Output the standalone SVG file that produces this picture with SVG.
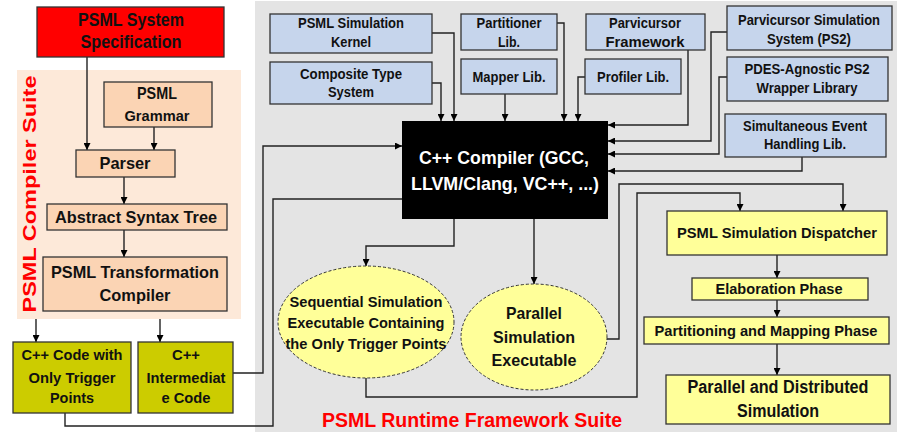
<svg xmlns="http://www.w3.org/2000/svg" width="911" height="446" viewBox="0 0 911 446">
<defs>
<marker id="ah" viewBox="0 0 10 10" refX="10" refY="5" markerWidth="7" markerHeight="7" markerUnits="userSpaceOnUse" orient="auto">
<path d="M0,0 L10,5 L0,10 z" fill="#000"/>
</marker>
<style>
text{font-family:"Liberation Sans",Arial,sans-serif;font-weight:bold;text-anchor:middle;fill:#111}
.box{stroke:#333;stroke-width:1.3}
.red{fill:#FF0000}
.peach{fill:#FBD4B4}
.olive{fill:#CCCC00}
.yel{fill:#FFFF99}
.blue{fill:#C6D5EC}
.ell{fill:#FFFF99;stroke:#333;stroke-width:1;stroke-dasharray:3 2}
.c{fill:none;stroke:#222;stroke-width:1.4}
.a{marker-end:url(#ah)}
.s14{font-size:14px}
.s15{font-size:15px}
.s17{font-size:17px}
.s18{font-size:18px}
.s19{font-size:19px}
.title{fill:#FF0000;font-size:20px}
</style>
</defs>
<rect x="0" y="0" width="911" height="446" fill="#fff"/>
<rect x="255" y="1" width="642" height="431" fill="#E4E4E4"/>
<rect x="17" y="70" width="224" height="249" fill="#FDE9D9"/>
<text class="title" transform="translate(36,194) rotate(-90)" textLength="237" lengthAdjust="spacingAndGlyphs" style="font-size:19px">PSML Compiler Suite</text>
<text class="title" x="472" y="427" textLength="300" lengthAdjust="spacingAndGlyphs">PSML Runtime Framework Suite</text>

<g id="connectors">
<path class="c a" d="M87,57 V150"/>
<path class="c a" d="M154,127 V150"/>
<path class="c a" d="M124,177 V204"/>
<path class="c a" d="M124,230 V257"/>
<path class="c a" d="M36,319 V342"/>
<path class="c a" d="M160,319 V342"/>
<path class="c a" d="M233,373 H263 V146 H402"/>
<path class="c" d="M65,413 V426 H273 V199 H402"/>
<path class="c a" d="M432,33 H454 V121"/>
<path class="c a" d="M432,83 H441 V121"/>
<path class="c a" d="M505,94 V121"/>
<path class="c a" d="M557,23 H564 V121"/>
<path class="c a" d="M585,77 H578 V121"/>
<path class="c a" d="M688,50 V125 H608"/>
<path class="c a" d="M727,32 H711 V141 H608"/>
<path class="c a" d="M727,77 H719 V154 H608"/>
<path class="c a" d="M802,157 V171 H608"/>
<path class="c a" d="M454,219 V246 H366 V266"/>
<path class="c a" d="M534,219 V284"/>
<path class="c a" d="M607,339 H619 V184 H843 V211"/>
<path class="c a" d="M366,378 V397 H637 V193 H740 V211"/>
<path class="c a" d="M777,255 V278"/>
<path class="c a" d="M777,300 V317"/>
<path class="c a" d="M777,344 V375"/>
</g>

<g id="spec">
<rect class="box red" x="37" y="7" width="187" height="50"/>
<text class="s18" x="131" y="26" textLength="106" lengthAdjust="spacingAndGlyphs">PSML System</text>
<text class="s18" x="131" y="48" textLength="101" lengthAdjust="spacingAndGlyphs">Specification</text>
</g>
<g id="grammar">
<rect class="box peach" x="104" y="82" width="108" height="45"/>
<text class="s17" x="157" y="99" textLength="40" lengthAdjust="spacingAndGlyphs">PSML</text>
<text class="s15" x="157" y="121" textLength="65" lengthAdjust="spacingAndGlyphs">Grammar</text>
</g>
<g id="parser">
<rect class="box peach" x="76" y="150" width="99" height="27"/>
<text class="s17" x="125" y="169" textLength="51" lengthAdjust="spacingAndGlyphs">Parser</text>
</g>
<g id="ast">
<rect class="box peach" x="47" y="204" width="180" height="26"/>
<text class="s17" x="136" y="223" textLength="162" lengthAdjust="spacingAndGlyphs">Abstract Syntax Tree</text>
</g>
<g id="transform">
<rect class="box peach" x="43" y="257" width="184" height="54"/>
<text class="s17" x="135" y="278" textLength="168" lengthAdjust="spacingAndGlyphs">PSML Transformation</text>
<text class="s17" x="135" y="301" textLength="71" lengthAdjust="spacingAndGlyphs">Compiler</text>
</g>
<g id="cppcode">
<rect class="box olive" x="13" y="342" width="118" height="71"/>
<text class="s15" x="72" y="360" textLength="101" lengthAdjust="spacingAndGlyphs">C++ Code with</text>
<text class="s15" x="72" y="383" textLength="87" lengthAdjust="spacingAndGlyphs">Only Trigger</text>
<text class="s15" x="72" y="403" textLength="44" lengthAdjust="spacingAndGlyphs">Points</text>
</g>
<g id="cppinter">
<rect class="box olive" x="138" y="342" width="95" height="71"/>
<text class="s15" x="186" y="360" textLength="28" lengthAdjust="spacingAndGlyphs">C++</text>
<text class="s15" x="186" y="383" textLength="79" lengthAdjust="spacingAndGlyphs">Intermediat</text>
<text class="s15" x="186" y="403" textLength="49" lengthAdjust="spacingAndGlyphs">e Code</text>
</g>

<g id="kernel">
<rect class="box blue" x="270" y="14" width="162" height="39"/>
<text class="s14" x="351" y="28" textLength="106" lengthAdjust="spacingAndGlyphs">PSML Simulation</text>
<text class="s14" x="351" y="47" textLength="40" lengthAdjust="spacingAndGlyphs">Kernel</text>
</g>
<g id="composite">
<rect class="box blue" x="270" y="62" width="162" height="42"/>
<text class="s14" x="351" y="79" textLength="102" lengthAdjust="spacingAndGlyphs">Composite Type</text>
<text class="s14" x="351" y="97" textLength="46" lengthAdjust="spacingAndGlyphs">System</text>
</g>
<g id="partitioner">
<rect class="box blue" x="461" y="14" width="96" height="36"/>
<text class="s14" x="509" y="28" textLength="65" lengthAdjust="spacingAndGlyphs">Partitioner</text>
<text class="s14" x="509" y="47" textLength="22" lengthAdjust="spacingAndGlyphs">Lib.</text>
</g>
<g id="mapper">
<rect class="box blue" x="461" y="59" width="96" height="35"/>
<text class="s14" x="509" y="82" textLength="73" lengthAdjust="spacingAndGlyphs">Mapper Lib.</text>
</g>
<g id="parvicursor">
<rect class="box blue" x="586" y="14" width="119" height="36"/>
<text class="s14" x="645" y="28" textLength="72" lengthAdjust="spacingAndGlyphs">Parvicursor</text>
<text class="s14" x="645" y="47" textLength="79" lengthAdjust="spacingAndGlyphs">Framework</text>
</g>
<g id="profiler">
<rect class="box blue" x="585" y="59" width="96" height="35"/>
<text class="s14" x="633" y="82" textLength="72" lengthAdjust="spacingAndGlyphs">Profiler Lib.</text>
</g>
<g id="ps2">
<rect class="box blue" x="727" y="6" width="165" height="44"/>
<text class="s14" x="809" y="25" textLength="142" lengthAdjust="spacingAndGlyphs">Parvicursor Simulation</text>
<text class="s14" x="809" y="44" textLength="84" lengthAdjust="spacingAndGlyphs">System (PS2)</text>
</g>
<g id="pdes">
<rect class="box blue" x="727" y="57" width="161" height="44"/>
<text class="s14" x="807" y="74" textLength="125" lengthAdjust="spacingAndGlyphs">PDES-Agnostic PS2</text>
<text class="s14" x="807" y="93" textLength="101" lengthAdjust="spacingAndGlyphs">Wrapper Library</text>
</g>
<g id="simevent">
<rect class="box blue" x="725" y="114" width="161" height="43"/>
<text class="s14" x="805" y="131" textLength="124" lengthAdjust="spacingAndGlyphs">Simultaneous Event</text>
<text class="s14" x="805" y="149" textLength="82" lengthAdjust="spacingAndGlyphs">Handling Lib.</text>
</g>

<g id="compiler">
<rect x="402" y="121" width="206" height="98" fill="#000"/>
<text class="s19" x="504" y="164" style="fill:#fff" textLength="170" lengthAdjust="spacingAndGlyphs">C++ Compiler (GCC,</text>
<text class="s19" x="505" y="190" style="fill:#fff" textLength="188" lengthAdjust="spacingAndGlyphs">LLVM/Clang, VC++, ...)</text>
</g>

<g id="seqexe">
<ellipse class="ell" cx="366" cy="322" rx="88" ry="56"/>
<text class="s15" x="366" y="307" textLength="153" lengthAdjust="spacingAndGlyphs">Sequential Simulation</text>
<text class="s15" x="366" y="328" textLength="157" lengthAdjust="spacingAndGlyphs">Executable Containing</text>
<text class="s15" x="366" y="349" textLength="161" lengthAdjust="spacingAndGlyphs">the Only Trigger Points</text>
</g>
<g id="parexe">
<ellipse class="ell" cx="534" cy="337" rx="73" ry="53"/>
<text class="s17" x="534" y="319" textLength="56" lengthAdjust="spacingAndGlyphs">Parallel</text>
<text class="s17" x="534" y="343" textLength="82" lengthAdjust="spacingAndGlyphs">Simulation</text>
<text class="s17" x="534" y="366" textLength="85" lengthAdjust="spacingAndGlyphs">Executable</text>
</g>

<g id="dispatcher">
<rect class="box yel" x="667" y="211" width="220" height="44"/>
<text class="s15" x="777" y="238" textLength="200" lengthAdjust="spacingAndGlyphs">PSML Simulation Dispatcher</text>
</g>
<g id="elaboration">
<rect class="box yel" x="692" y="278" width="176" height="22"/>
<text class="s15" x="779" y="294" textLength="127" lengthAdjust="spacingAndGlyphs">Elaboration Phase</text>
</g>
<g id="partitioning">
<rect class="box yel" x="644" y="317" width="245" height="27"/>
<text class="s15" x="766" y="336" textLength="223" lengthAdjust="spacingAndGlyphs">Partitioning and Mapping Phase</text>
</g>
<g id="pds">
<rect class="box yel" x="666" y="375" width="224" height="49"/>
<text class="s18" x="778" y="393" textLength="181" lengthAdjust="spacingAndGlyphs">Parallel and Distributed</text>
<text class="s18" x="778" y="417" textLength="82" lengthAdjust="spacingAndGlyphs">Simulation</text>
</g>
</svg>
